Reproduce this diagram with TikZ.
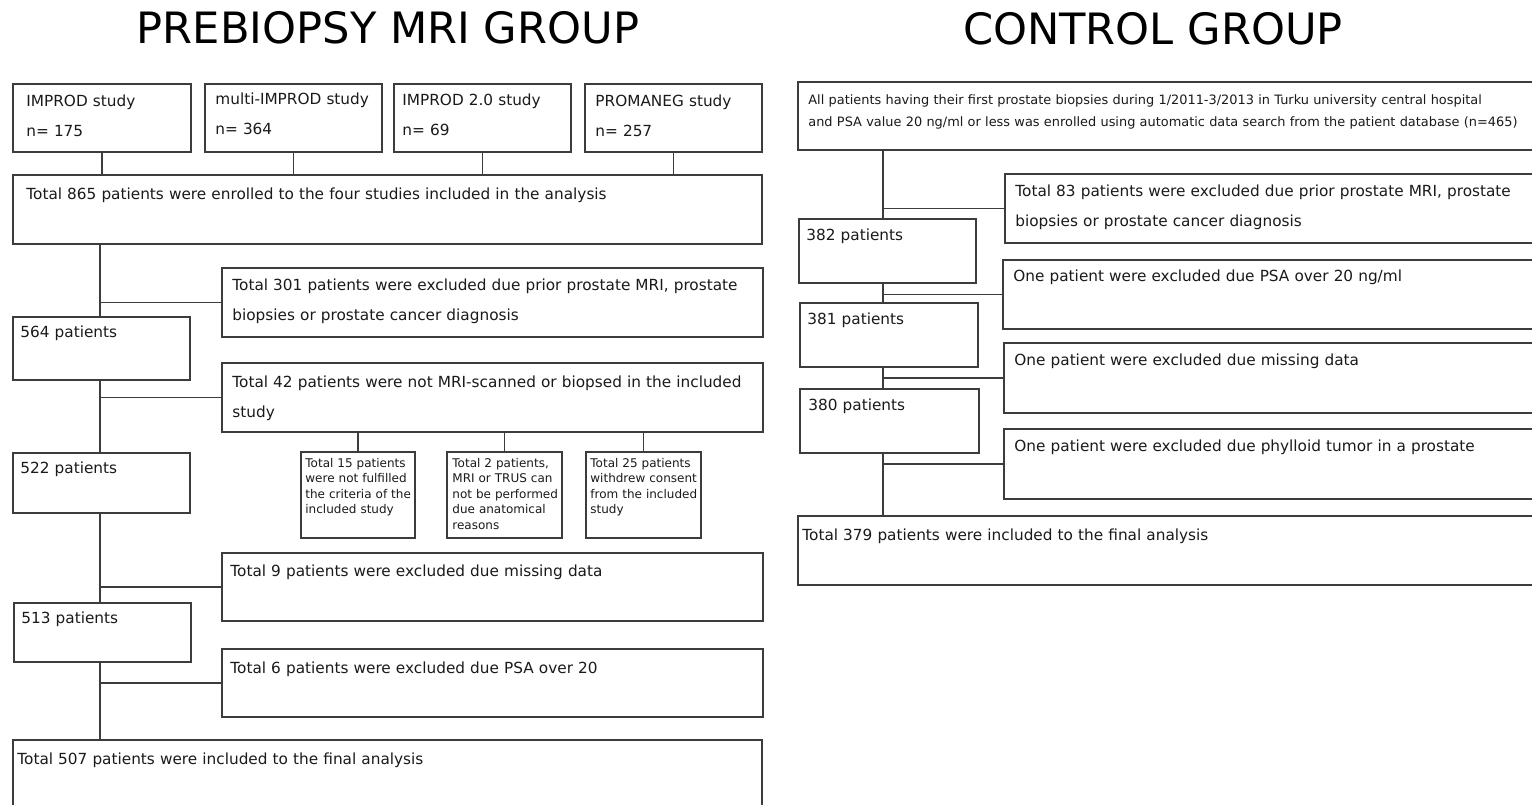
\documentclass[tikz,border=0pt]{standalone}
\usepackage{fontspec}
\setmainfont{DejaVu Sans}
\usetikzlibrary{fit}
\definecolor{linec}{HTML}{3C3C3C}
\definecolor{textc}{HTML}{1A1A1A}
\tikzset{
  box/.style={draw=linec, line width=0.7pt, inner sep=0pt},
  link/.style={draw=linec, line width=0.7pt},
  txt/.style={anchor=base west, inner sep=0pt, align=left, text width=420pt,
    text=textc, font=\fontsize{7.65}{15}\selectfont},
  small/.style={txt, text width=60pt, font=\fontsize{6}{7.75}\selectfont},
  head/.style={anchor=base, inner sep=0pt, text=black, font=\fontsize{21.6}{26}\selectfont},
}

\begin{document}
\begin{tikzpicture}[x=0.5pt, y=-0.5pt]
\useasboundingbox (0,0) rectangle (1532,804);
\fill[white] (0,0) rectangle (1532,804);

% titles
\node[head] (h1) at (388,43.5) {PREBIOPSY MRI GROUP};
\node[head] (h2) at (1153,44) {CONTROL GROUP};

% trunk lines
\coordinate (ltrunk) at (100,0);
\coordinate (rtrunk) at (883,0);

% prebiopsy MRI group
\node[box, fit={(13,84) (191,152)}] (s1) {};
\node[txt] (s1t) at (26,106) {IMPROD study\\n= 175};
\node[box, fit={(205,84) (382,152)}] (s2) {};
\node[txt] (s2t) at (215,104) {multi-IMPROD study\\n= 364};
\node[box, fit={(394,84) (571,152)}] (s3) {};
\node[txt] (s3t) at (402,105) {IMPROD 2.0 study\\n= 69};
\node[box, fit={(585,84) (762,152)}] (s4) {};
\node[txt] (s4t) at (595,106) {PROMANEG study\\n= 257};

\node[box, fit={(13,175) (762,244)}] (all) {};
\node[txt] (allt) at (26,199.5) {Total 865 patients were enrolled to the four studies included in the analysis};

\node[box, fit={(222,268) (763,337)}] (ex1) {};
\node[txt] (ex1t) at (232,290) {Total 301 patients were excluded due prior prostate MRI, prostate\\biopsies or prostate cancer diagnosis};
\node[box, fit={(13,317) (190,380)}] (p564) {};
\node[txt] (p564t) at (20,337) {564 patients};

\node[box, fit={(222,363) (763,432)}] (ex2) {};
\node[txt] (ex2t) at (232,387) {Total 42 patients were not MRI-scanned or biopsed in the included\\study};
\node[box, fit={(301,452) (415,538)}] (r1) {};
\node[small] (r1t) at (305,467) {Total 15 patients\\were not fulfilled\\the criteria of the\\included study};
\node[box, fit={(447,452) (562,538)}] (r2) {};
\node[small] (r2t) at (452,467) {Total 2 patients,\\MRI or TRUS can\\not be performed\\due anatomical\\reasons};
\node[box, fit={(586,452) (701,538)}] (r3) {};
\node[small] (r3t) at (590,467) {Total 25 patients\\withdrew consent\\from the included\\study};
\node[box, fit={(13,453) (190,513)}] (p522) {};
\node[txt] (p522t) at (20,473) {522 patients};

\node[box, fit={(222,553) (763,621)}] (ex3) {};
\node[txt] (ex3t) at (230,576) {Total 9 patients were excluded due missing data};
\node[box, fit={(14,603) (191,662)}] (p513) {};
\node[txt] (p513t) at (21,623) {513 patients};

\node[box, fit={(222,649) (763,717)}] (ex4) {};
\node[txt] (ex4t) at (230,673) {Total 6 patients were excluded due PSA over 20};
\node[box, fit={(13,740) (762,808)}] (fin1) {};
\node[txt] (fin1t) at (17,764) {Total 507 patients were included to the final analysis};

\foreach \s in {s1,s2,s3,s4}
  \draw[link] (\s.south) -- (\s.south |- all.north);
\draw[link] (ltrunk |- all.south) -- (ltrunk |- p564.north);
\draw[link] (ex1.west) -- (ex1.west -| ltrunk);
\draw[link] (ltrunk |- p564.south) -- (ltrunk |- p522.north);
\draw[link] (ex2.west) -- (ex2.west -| ltrunk);
\foreach \r in {r1,r2,r3}
  \draw[link] (\r.north) -- (\r.north |- ex2.south);
\draw[link] (ltrunk |- p522.south) -- (ltrunk |- p513.north);
\draw[link] (ex3.west) -- (ex3.west -| ltrunk);
\draw[link] (ltrunk |- p513.south) -- (ltrunk |- fin1.north);
\draw[link] (ex4.west) -- (ex4.west -| ltrunk);

% control group
\node[box, fit={(798,82) (1534,150)}] (top) {};
\node[txt, font=\fontsize{6.45}{11}\selectfont] (topt) at (808,104)
  {All patients having their first prostate biopsies during 1/2011-3/2013 in Turku university central hospital\\and PSA value 20 ng/ml or less was enrolled using automatic data search from the patient database (n=465)};

\node[box, fit={(1005,174) (1534,243)}] (exa) {};
\node[txt] (exat) at (1015,196) {Total 83 patients were excluded due prior prostate MRI, prostate\\biopsies or prostate cancer diagnosis};
\node[box, fit={(799,219) (976,283)}] (p382) {};
\node[txt] (p382t) at (806,240) {382 patients};

\node[box, fit={(1003,260) (1534,329)}] (exb) {};
\node[txt] (exbt) at (1013,281) {One patient were excluded due PSA over 20 ng/ml};
\node[box, fit={(800,303) (978,367)}] (p381) {};
\node[txt] (p381t) at (807,324) {381 patients};

\node[box, fit={(1004,343) (1534,413)}] (exc) {};
\node[txt] (exct) at (1014,365) {One patient were excluded due missing data};
\node[box, fit={(800,389) (979,453)}] (p380) {};
\node[txt] (p380t) at (808,410) {380 patients};

\node[box, fit={(1004,429) (1534,499)}] (exd) {};
\node[txt] (exdt) at (1014,451) {One patient were excluded due phylloid tumor in a prostate};
\node[box, fit={(798,516) (1534,585)}] (fin2) {};
\node[txt] (fin2t) at (802,540) {Total 379 patients were included to the final analysis};

\draw[link] (rtrunk |- top.south) -- (rtrunk |- p382.north);
\draw[link] (exa.west) -- (exa.west -| rtrunk);
\draw[link] (rtrunk |- p382.south) -- (rtrunk |- p381.north);
\draw[link] (exb.west) -- (exb.west -| rtrunk);
\draw[link] (rtrunk |- p381.south) -- (rtrunk |- p380.north);
\draw[link] (exc.west) -- (exc.west -| rtrunk);
\draw[link] (rtrunk |- p380.south) -- (rtrunk |- fin2.north);
\draw[link] (exd.west) -- (exd.west -| rtrunk);
\end{tikzpicture}
\end{document}
